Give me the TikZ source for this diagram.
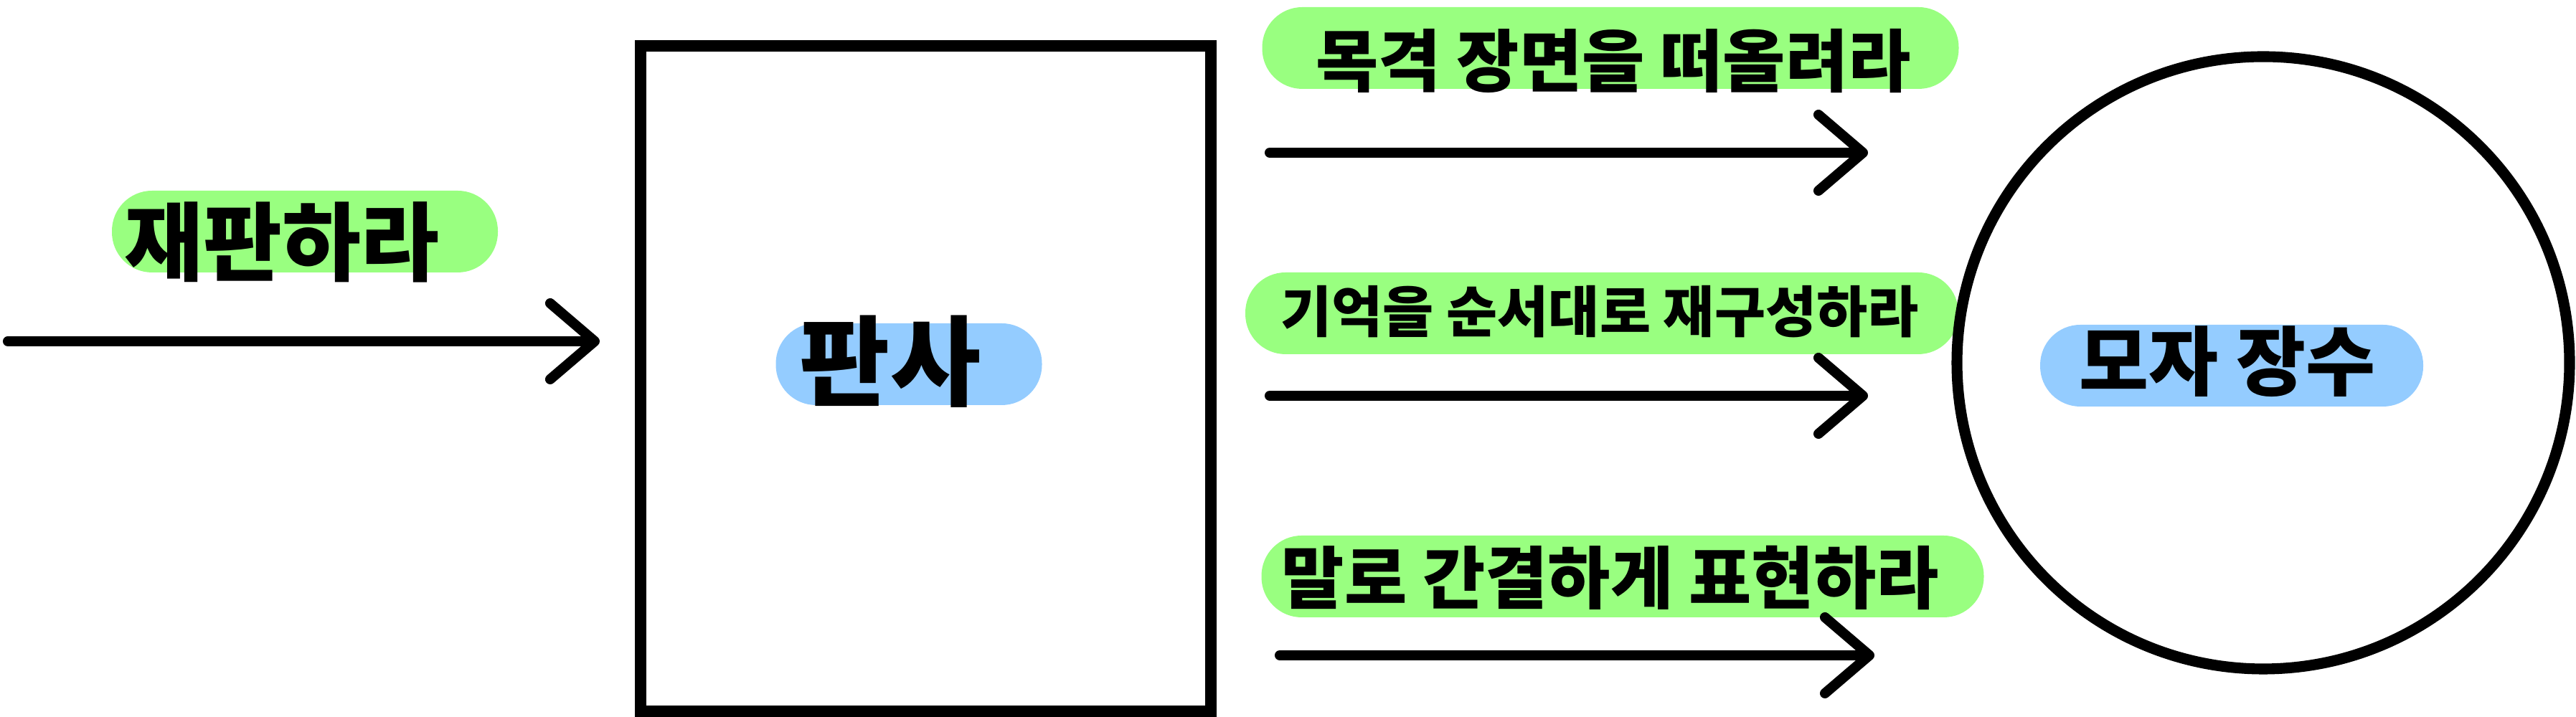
\documentclass[tikz,border=0pt]{standalone}
\usepackage{fontspec}
\setmainfont{Noto Sans CJK KR}
\usetikzlibrary{arrows.meta}
\definecolor{tagGreen}{HTML}{99FF80}
\definecolor{tagBlue}{HTML}{94CCFF}

\begin{document}
\begin{tikzpicture}[
    tag/.style={rounded corners=5.6mm, minimum height=11.4mm, inner sep=0pt},
    greentag/.style={tag, fill=tagGreen},
    bluetag/.style={tag, fill=tagBlue},
    words/.style={font=\fontsize{#1}{#1}\selectfont\bfseries, inner sep=0pt},
    arr/.style={line width=4pt, line cap=round, line join=round,
        -{Straight Barb[length=6.2mm, width=10.6mm, line cap=round, line join=round]}},
]
    \useasboundingbox (0,0) rectangle (35.91,10);

    % highlights
    \node[greentag, minimum width=53.8mm] (trialTag) at (4.25,6.77) {};
    \node[greentag, minimum width=97.1mm] (recallTag) at (22.45,9.33) {};
    \node[greentag, minimum width=99.4mm] (orderTag) at (22.33,5.63) {};
    \node[greentag, minimum width=100.7mm] (speakTag) at (22.62,1.96) {};
    \node[bluetag, minimum width=37.1mm] (judgeTag) at (12.67,4.92) {};
    \node[bluetag, minimum width=53.4mm] (hatterTag) at (31.11,4.90) {};

    % judge and hatter
    \node[draw, line width=4.3pt, minimum width=79.5mm, minimum height=92.8mm] (judgeBox) at (12.905,4.72) {};
    \node[draw, circle, line width=4.3pt, minimum size=85.4mm] (hatterRing) at (31.55,4.94) {};

    % texts
    \node[words=34] (trial) at (3.93,6.62) {재판하라};
    \node[words=39] (judge) at (12.41,4.96) {판사};
    \node[words=30] (hatter) at (31.05,4.96) {모자 장수};
    \node[words=27] (recall) at (22.49,9.15) {목격 장면을 떠올려라};
    \node[words=22] (order) at (22.30,5.65) {기억을 순서대로 재구성하라};
    \node[words=27] (speak) at (22.45,1.94) {말로 간결하게 표현하라};

    % arrows
    \coordinate (trialStart) at (0.11,5.24);
    \coordinate (trialEnd) at (8.36,5.24);
    \coordinate (recallStart) at (17.70,7.87);
    \coordinate (recallEnd) at (26.04,7.87);
    \coordinate (orderStart) at (17.70,4.48);
    \coordinate (orderEnd) at (26.04,4.48);
    \coordinate (speakStart) at (17.84,0.86);
    \coordinate (speakEnd) at (26.13,0.86);

    \draw[arr] (trialStart) -- (trialEnd);
    \draw[arr] (recallStart) -- (recallEnd);
    \draw[arr] (orderStart) -- (orderEnd);
    \draw[arr] (speakStart) -- (speakEnd);
\end{tikzpicture}
\end{document}
